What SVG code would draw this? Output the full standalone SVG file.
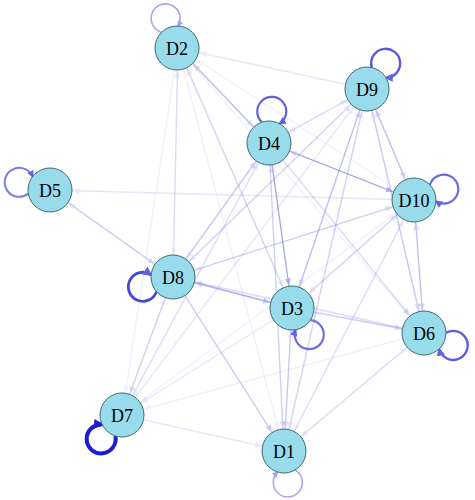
<svg xmlns="http://www.w3.org/2000/svg" xmlns:xlink="http://www.w3.org/1999/xlink" width="475" height="500" viewBox="0 0 475 500">
<style>
.e{stroke:#7474e0;stroke-width:1.3;fill:none;marker-end:url(#ah)}
.o1{opacity:.1}.o2{opacity:.17}.o3{opacity:.26}.o4{opacity:.4}.o5{opacity:.55}
.n circle{fill:#98dcec;stroke:#3d6b6b;stroke-width:1}
.n text{font-family:"Liberation Serif","Times New Roman",serif;font-size:18px;fill:#000;text-anchor:middle;dominant-baseline:central}
.lp{fill:none}
</style>
<defs>
<marker id="ah" markerUnits="userSpaceOnUse" markerWidth="40" markerHeight="10" refX="31" refY="5" orient="auto" overflow="visible">
<path d="M1.5,2 L8,5 L1.5,8 z" fill="#7474e0"/>
</marker>
<marker id="ml" markerUnits="strokeWidth" viewBox="0 0 10 10" markerWidth="4" markerHeight="4" refX="8" refY="5" orient="auto"><path d="M0,0 L10,5 L0,10 z" fill="#a4a4f0"/></marker>
<marker id="mm" markerUnits="strokeWidth" viewBox="0 0 10 10" markerWidth="3.5" markerHeight="3.5" refX="8" refY="5" orient="auto"><path d="M0,0 L10,5 L0,10 z" fill="#6262e0"/></marker>
<marker id="md" markerUnits="strokeWidth" viewBox="0 0 10 10" markerWidth="2.5" markerHeight="2.5" refX="8" refY="5" orient="auto"><path d="M0,0 L10,5 L0,10 z" fill="#1c1cd0"/></marker>
<path id="loop" d="M-8.8,-20.2 A14.5 14.5 0 1 1 8.8,-20.2"/>
</defs>
<g id="connectors">
<line class="e o1" x1="178" y1="48" x2="284" y2="451"/>
<line class="e o3" x1="292" y1="308" x2="284" y2="451"/>
<line class="e o2" x1="284" y1="451" x2="292" y2="308"/>
<line class="e o3" x1="269" y1="143" x2="284" y2="451"/>
<line class="e o1" x1="284" y1="451" x2="269" y2="143"/>
<line class="e o2" x1="424" y1="333" x2="284" y2="451"/>
<line class="e o1" x1="284" y1="451" x2="424" y2="333"/>
<line class="e o2" x1="122" y1="415" x2="284" y2="451"/>
<line class="e o4" x1="173" y1="277" x2="284" y2="451"/>
<line class="e o2" x1="367" y1="89" x2="284" y2="451"/>
<line class="e o2" x1="284" y1="451" x2="367" y2="89"/>
<line class="e o2" x1="284" y1="451" x2="414" y2="200"/>
<line class="e o1" x1="414" y1="200" x2="284" y2="451"/>
<line class="e o2" x1="178" y1="48" x2="292" y2="308"/>
<line class="e o2" x1="292" y1="308" x2="178" y2="48"/>
<line class="e o3" x1="178" y1="48" x2="269" y2="143"/>
<line class="e o3" x1="269" y1="143" x2="178" y2="48"/>
<line class="e o1" x1="178" y1="48" x2="424" y2="333"/>
<line class="e o1" x1="178" y1="48" x2="122" y2="415"/>
<line class="e o2" x1="173" y1="277" x2="178" y2="48"/>
<line class="e o1" x1="178" y1="48" x2="173" y2="277"/>
<line class="e o2" x1="367" y1="89" x2="178" y2="48"/>
<line class="e o1" x1="414" y1="200" x2="178" y2="48"/>
<line class="e o5" x1="269" y1="143" x2="292" y2="308"/>
<line class="e o2" x1="292" y1="308" x2="269" y2="143"/>
<line class="e o3" x1="292" y1="308" x2="424" y2="333"/>
<line class="e o1" x1="424" y1="333" x2="292" y2="308"/>
<line class="e o2" x1="292" y1="308" x2="122" y2="415"/>
<line class="e o4" x1="173" y1="277" x2="292" y2="308"/>
<line class="e o3" x1="292" y1="308" x2="173" y2="277"/>
<line class="e o3" x1="367" y1="89" x2="292" y2="308"/>
<line class="e o3" x1="292" y1="308" x2="367" y2="89"/>
<line class="e o2" x1="292" y1="308" x2="414" y2="200"/>
<line class="e o2" x1="414" y1="200" x2="292" y2="308"/>
<line class="e o3" x1="269" y1="143" x2="424" y2="333"/>
<line class="e o2" x1="122" y1="415" x2="269" y2="143"/>
<line class="e o1" x1="269" y1="143" x2="122" y2="415"/>
<line class="e o3" x1="173" y1="277" x2="269" y2="143"/>
<line class="e o2" x1="269" y1="143" x2="173" y2="277"/>
<line class="e o2" x1="367" y1="89" x2="269" y2="143"/>
<line class="e o2" x1="269" y1="143" x2="367" y2="89"/>
<line class="e o5" x1="269" y1="143" x2="414" y2="200"/>
<line class="e o3" x1="414" y1="200" x2="269" y2="143"/>
<line class="e o3" x1="50" y1="190" x2="173" y2="277"/>
<line class="e o2" x1="173" y1="277" x2="50" y2="190"/>
<line class="e o2" x1="414" y1="200" x2="50" y2="190"/>
<line class="e o1" x1="424" y1="333" x2="122" y2="415"/>
<line class="e o2" x1="424" y1="333" x2="173" y2="277"/>
<line class="e o1" x1="173" y1="277" x2="424" y2="333"/>
<line class="e o3" x1="367" y1="89" x2="424" y2="333"/>
<line class="e o2" x1="424" y1="333" x2="367" y2="89"/>
<line class="e o3" x1="414" y1="200" x2="424" y2="333"/>
<line class="e o3" x1="424" y1="333" x2="414" y2="200"/>
<line class="e o3" x1="173" y1="277" x2="122" y2="415"/>
<line class="e o1" x1="122" y1="415" x2="173" y2="277"/>
<line class="e o2" x1="122" y1="415" x2="367" y2="89"/>
<line class="e o1" x1="122" y1="415" x2="414" y2="200"/>
<line class="e o2" x1="367" y1="89" x2="173" y2="277"/>
<line class="e o2" x1="173" y1="277" x2="367" y2="89"/>
<line class="e o3" x1="173" y1="277" x2="414" y2="200"/>
<line class="e o2" x1="414" y1="200" x2="173" y2="277"/>
<line class="e o3" x1="367" y1="89" x2="414" y2="200"/>
<line class="e o3" x1="414" y1="200" x2="367" y2="89"/>
<use xlink:href="#loop" class="lp" transform="translate(177,48) rotate(-21)" stroke="#a4a4f0" stroke-width="1.6" marker-end="url(#ml)"/>
<use xlink:href="#loop" class="lp" transform="translate(269,143) rotate(5)" stroke="#6262e0" stroke-width="2.2" marker-end="url(#mm)"/>
<use xlink:href="#loop" class="lp" transform="translate(367,89) rotate(36)" stroke="#5a5ae0" stroke-width="2.4" marker-end="url(#mm)"/>
<use xlink:href="#loop" class="lp" transform="translate(414,200) rotate(70)" stroke="#6a6ae0" stroke-width="2.2" marker-end="url(#mm)"/>
<use xlink:href="#loop" class="lp" transform="translate(50,190) rotate(-76)" stroke="#7c7ce6" stroke-width="2" marker-end="url(#mm)"/>
<use xlink:href="#loop" class="lp" transform="translate(173,277) rotate(-108)" stroke="#4848d8" stroke-width="2.8" marker-end="url(#mm)"/>
<use xlink:href="#loop" class="lp" transform="translate(292,308) rotate(147)" stroke="#7070e2" stroke-width="2.2" marker-end="url(#mm)"/>
<use xlink:href="#loop" class="lp" transform="translate(424,333) rotate(113)" stroke="#5e5ee0" stroke-width="2.4" marker-end="url(#mm)"/>
<use xlink:href="#loop" class="lp" transform="translate(122,415) rotate(-139)" stroke="#1c1cd0" stroke-width="4" marker-end="url(#md)"/>
<use xlink:href="#loop" class="lp" transform="translate(284,451) rotate(173)" stroke="#a8a8f0" stroke-width="1.6" marker-end="url(#ml)"/>
</g>
<g id="D1" class="n"><circle cx="284" cy="451" r="22"/><text x="284" y="452">D1</text></g>
<g id="D2" class="n"><circle cx="177" cy="48" r="22"/><text x="177" y="49">D2</text></g>
<g id="D3" class="n"><circle cx="292" cy="308" r="22"/><text x="292" y="309">D3</text></g>
<g id="D4" class="n"><circle cx="269" cy="143" r="22"/><text x="269" y="144">D4</text></g>
<g id="D5" class="n"><circle cx="50" cy="190" r="22"/><text x="50" y="191">D5</text></g>
<g id="D6" class="n"><circle cx="424" cy="333" r="22"/><text x="424" y="334">D6</text></g>
<g id="D7" class="n"><circle cx="122" cy="415" r="22"/><text x="122" y="416">D7</text></g>
<g id="D8" class="n"><circle cx="173" cy="277" r="22"/><text x="173" y="278">D8</text></g>
<g id="D9" class="n"><circle cx="367" cy="89" r="22"/><text x="367" y="90">D9</text></g>
<g id="D10" class="n"><circle cx="414" cy="200" r="22"/><text x="414" y="201">D10</text></g>
</svg>
